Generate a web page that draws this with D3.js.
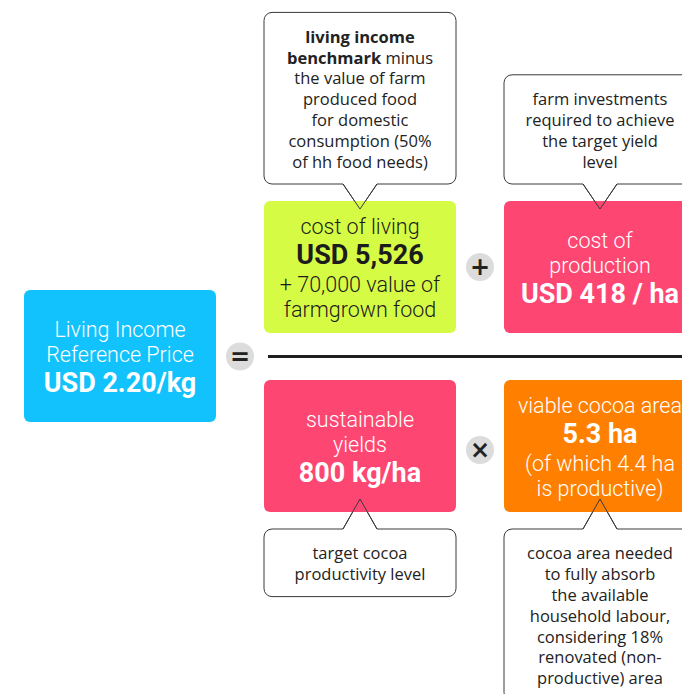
<!DOCTYPE html>
<html>
<head>
<meta charset="utf-8">
<script src="https://cdn.jsdelivr.net/npm/d3@7"></script>
<style>
  html, body { margin: 0; padding: 0; background: #fff; }
  svg { display: block; }
</style>
</head>
<body>
<div id="chart"></div>
<script>
// the formula blocks: [text, bold] segments per line
const resultLines = [
  [["Living Income"]],
  [["Reference Price"]],
  [["USD 2.20/kg", true]]
]
const numeratorIds = ["living", "production"]
const numeratorLines = [
  [[["cost of living"]], [["USD 5,526", true]], [["+ 70,000 value of"]], [["farmgrown food"]]],
  [[["cost of"]], [["production"]], [["USD 418 / ha", true]]]
]
const denominatorIds = ["yields", "area"]
const denominatorLines = [
  [[["sustainable"]], [["yields"]], [["800 kg/ha", true]]],
  [[["viable cocoa area"]], [["5.3 ha", true]], [["(of which 4.4 ha"]], [["is productive)"]]]
]
const numeratorNotes = [
  [[["living income", true]], [["benchmark", true], [" minus"]], [["the value of farm"]], [["produced food"]],
   [["for domestic"]], [["consumption (50%"]], [["of hh food needs)"]]],
  [[["farm investments"]], [["required to achieve"]], [["the target yield"]], [["level"]]]
]
const denominatorNotes = [
  [[["target cocoa"]], [["productivity level"]]],
  [[["cocoa area needed"]], [["to fully absorb"]], [["the available"]], [["household labour,"]],
   [["considering 18%"]], [["renovated (non-"]], [["productive) area"]]]
]
const operators = ["=", "+", "×"]

const colors = {
  result: "#12c2fc",
  living: "#d6fb45",
  production: "#fe4673",
  yields: "#fe4673",
  area: "#ff8000"
}

const width = 682, height = 694
const boxW = 192, boxH = 132, noteGap = 17, noteLine = 20.8

const col = d3.scaleOrdinal().domain(["result", "first", "second"]).range([24, 264, 504])
const row = d3.scaleOrdinal().domain(["top", "middle", "bottom"]).range([201, 290, 380])

const svg = d3.select("#chart").append("svg")
  .attr("width", width).attr("height", height)

const boxFont = "Roboto, 'Noto Sans', sans-serif"
const noteFont = "'Open Sans', 'Noto Sans', sans-serif"

function lineGap(a, b) {
  const bold = a.some(s => s[1]) || b.some(s => s[1])
  return bold ? 29 : 25
}

function writeLines(g, lines, cx, cy, opts) {
  let offs = [0]
  for (let i = 1; i < lines.length; i++) {
    offs.push(offs[i - 1] + (opts.gap ? opts.gap : lineGap(lines[i - 1], lines[i])))
  }
  const mid = offs[offs.length - 1] / 2
  lines.forEach((line, i) => {
    const bold = line.length === 1 && line[0][1]
    const t = g.append("text")
      .attr("x", cx)
      .attr("y", cy + offs[i] - mid)
      .attr("text-anchor", "middle")
      .attr("dominant-baseline", "central")
      .attr("font-family", opts.font)
      .attr("font-size", bold && opts.bigBold ? opts.bigBold : opts.size)
      .attr("font-weight", opts.weight || 400)
      .attr("fill", opts.color)
    line.forEach(seg => {
      t.append("tspan")
        .attr("font-weight", seg[1] ? 700 : null)
        .text(seg[0])
    })
  })
}

function drawNote(g, lines, cx, boxEdge, dir) {
  // dir -1 : note above the box, +1 : note below
  const h = lines.length * noteLine + 26
  const x0 = cx - boxW / 2, x1 = cx + boxW / 2, r = 8, pw = 17
  const near = boxEdge + dir * noteGap
  const far = near + dir * h
  const apex = boxEdge - dir * (dir < 0 ? 8 : 13)
  const p = d3.path()
  const yTop = Math.min(near, far), yBot = Math.max(near, far)
  p.moveTo(x0 + r, yTop)
  if (dir > 0) { p.lineTo(cx - pw, yTop); p.lineTo(cx, apex); p.lineTo(cx + pw, yTop) }
  p.lineTo(x1 - r, yTop)
  p.arcTo(x1, yTop, x1, yTop + r, r)
  p.lineTo(x1, yBot - r)
  p.arcTo(x1, yBot, x1 - r, yBot, r)
  if (dir < 0) { p.lineTo(cx + pw, yBot); p.lineTo(cx, apex); p.lineTo(cx - pw, yBot) }
  p.lineTo(x0 + r, yBot)
  p.arcTo(x0, yBot, x0, yBot - r, r)
  p.lineTo(x0, yTop + r)
  p.arcTo(x0, yTop, x0 + r, yTop, r)
  p.closePath()
  g.append("path").attr("d", p.toString())
    .attr("fill", "#fff").attr("stroke", "#3a3a3a").attr("stroke-width", 1)
  writeLines(g, lines, cx, (yTop + yBot) / 2, {
    font: noteFont, size: 16.5, color: "#222", gap: noteLine
  })
  return { cx, near, apex, pw }
}

function drawBox(g, x, y, h, fill, lines, textColor) {
  g.append("rect")
    .attr("x", x).attr("y", y).attr("width", boxW).attr("height", h)
    .attr("rx", 6).attr("fill", fill)
  writeLines(g, lines, x + boxW / 2, y + h / 2, {
    font: boxFont, size: 21.5, bigBold: 27, color: textColor, weight: 300
  })
}

function drawOperator(g, cx, cy, sym) {
  g.append("circle").attr("cx", cx).attr("cy", cy).attr("r", 14).attr("fill", "#dcdcdc")
  g.append("text").attr("x", cx).attr("y", cy)
    .attr("text-anchor", "middle").attr("dominant-baseline", "central")
    .attr("font-family", "'DejaVu Sans', sans-serif")
    .attr("font-weight", 700).attr("font-size", 24).attr("fill", "#222")
    .text(sym)
}

const notesG = svg.append("g")
const boxesG = svg.append("g")
const pointerG = svg.append("g")

const cols = ["first", "second"]
const pointers = []

// notes
numeratorNotes.forEach((lines, i) => {
  pointers.push(drawNote(notesG, lines, col(cols[i]) + boxW / 2, row("top"), -1))
})
denominatorNotes.forEach((lines, i) => {
  pointers.push(drawNote(notesG, lines, col(cols[i]) + boxW / 2, row("bottom") + boxH, 1))
})

// boxes
drawBox(boxesG, col("result"), row("middle"), boxH, colors.result, resultLines, "#fff")
numeratorIds.forEach((id, i) => {
  drawBox(boxesG, col(cols[i]), row("top"), boxH, colors[id], numeratorLines[i],
    id === "living" ? "#1c1c1c" : "#fff")
})
denominatorIds.forEach((id, i) => {
  drawBox(boxesG, col(cols[i]), row("bottom"), boxH, colors[id], denominatorLines[i], "#fff")
})

// pointer tips drawn over the boxes
pointers.forEach(pt => {
  pointerG.append("path")
    .attr("d", d3.line()([[pt.cx - pt.pw, pt.near], [pt.cx, pt.apex], [pt.cx + pt.pw, pt.near]]))
    .attr("fill", "none").attr("stroke", "#3a3a3a").attr("stroke-width", 1)
})

// fraction bar
const barY = (row("top") + boxH + row("bottom")) / 2
svg.append("line")
  .attr("x1", col("first") + 4).attr("x2", width)
  .attr("y1", barY).attr("y2", barY)
  .attr("stroke", "#1e1e1e").attr("stroke-width", 3)

// operators
const opX = (col("first") + boxW + col("second")) / 2
drawOperator(svg, (col("result") + boxW + col("first")) / 2, barY, operators[0])
drawOperator(svg, opX, row("top") + boxH / 2, operators[1])
drawOperator(svg, opX, row("bottom") + boxH / 2 + 4, operators[2])
</script>
</body>
</html>
